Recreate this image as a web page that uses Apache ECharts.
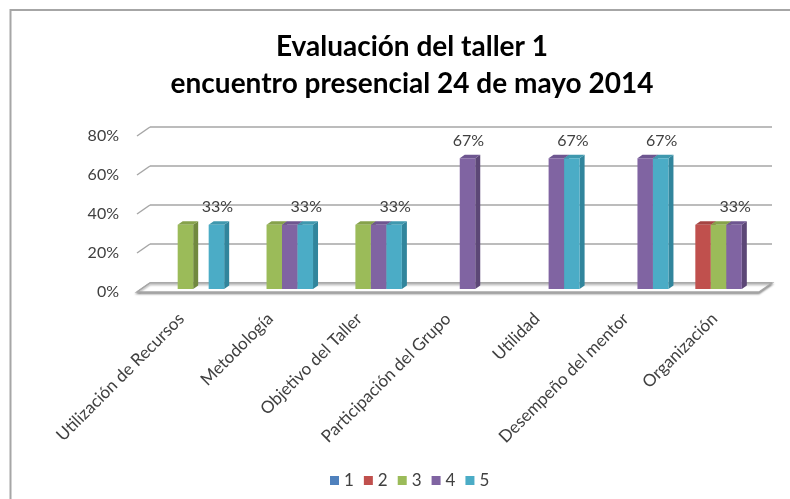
<!DOCTYPE html>
<html>
<head>
<meta charset="utf-8">
<script src="https://cdn.jsdelivr.net/npm/echarts@6/dist/echarts.min.js"></script>
<style>
html,body{margin:0;padding:0;background:#fff;}
#chart{width:790px;height:499px;}
</style>
</head>
<body>
<div id="chart"></div>
<script>
// ---- data ----
var categories = ['Utilización de Recursos','Metodología','Objetivo del Taller','Participación del Grupo','Utilidad','Desempeño del mentor','Organización'];
var seriesNames = ['1','2','3','4','5'];
var s1 = [null,null,null,null,null,null,null];
var s2 = [null,null,null,null,null,null,0.33];
var s3 = [0.33,0.33,0.33,null,null,null,0.33];
var s4 = [null,0.33,0.33,0.67,0.67,0.67,0.33];
var s5 = [0.33,0.33,0.33,null,0.67,0.67,null];
var yTicks = [0,0.2,0.4,0.6,0.8];
var yTickLabels = ['0%','20%','40%','60%','80%'];

var allSeries = [s1,s2,s3,s4,s5];
var colors = ['#4F81BD','#C0504D','#9BBB59','#8064A2','#4BACC6'];
var sideColors = ['#385d8a','#8c3836','#71893f','#5c4776','#31859c'];
var topColors = ['#46729f','#a54543','#86a24b','#6e5690','#3f98ae'];

// which series carries the data label in each category (last one with a value)
var labelSeries = categories.map(function(c,i){
  var k=-1; allSeries.forEach(function(s,j){ if(s[i]!=null) k=j; }); return k;
});

var FONT = 'Lato, "Open Sans", sans-serif';
var GAP = 0.128, N = 5;
var SHIFT_X = 4, SHIFT_Y = -3;     // bars sit slightly behind the front plane
var DX = 5, DY = -3.5;              // bar depth
var WALL_DX = 13, WALL_DY = -9;     // back wall offset

function barSeries(idx){
  var vals = allSeries[idx];
  return {
    type:'custom', name: seriesNames[idx], xAxisIndex:0, yAxisIndex:0, z:5,
    itemStyle:{color: colors[idx]},
    data: vals.map(function(v,i){ return [i, v==null ? '-' : v]; }),
    encode:{x:0,y:1},
    renderItem: function(params, api){
      var v = api.value(1);
      if (v==null || isNaN(v)) return null;
      var ci = api.value(0);
      var c = api.coord([ci, v]);
      var b = api.coord([ci, 0]);
      var band = api.size([1,0])[0];
      var gw = band*(1-GAP), bw = gw/N;
      var x0 = c[0] - gw/2 + idx*bw + SHIFT_X, x1 = x0 + bw;
      var yt = c[1] + SHIFT_Y, yb = b[1] + SHIFT_Y;
      var children = [
        {type:'polygon', shape:{points:[[x1,yb],[x1+DX,yb+DY],[x1+DX,yt+DY],[x1,yt]]}, style:{fill: sideColors[idx]}},
        {type:'polygon', shape:{points:[[x0,yt],[x1,yt],[x1+DX,yt+DY],[x0+DX,yt+DY]]}, style:{fill: topColors[idx]}},
        {type:'rect', shape:{x:x0, y:yt, width:bw, height:yb-yt}, style:{fill: colors[idx]}}
      ];
      if (labelSeries[ci] === idx) {
        children.push({type:'text', style:{text: Math.round(v*100)+'%', x:(x0+x1)/2 + 1, y: yt - 18,
          align:'center', verticalAlign:'middle', fill:'#404040', font:'16px '+FONT}});
      }
      return {type:'group', children: children};
    }
  };
}

var chart = echarts.init(document.getElementById('chart'));
var option = {
  animation:false,
  backgroundColor:'#fff',
  title:{
    text:'Evaluación del taller 1\nencuentro presencial 24 de mayo 2014',
    left:407, textAlign:'center', top:23,
    textStyle:{fontFamily:FONT, fontWeight:'bold', fontSize:28, color:'#000', lineHeight:37}
  },
  legend:{
    data: seriesNames, left:325, top:467, icon:'rect', itemWidth:9, itemHeight:9, itemGap:10,
    textStyle:{fontFamily:FONT, fontSize:17, color:'#404040'}
  },
  grid:[
    {left:137, right:31, top:136, bottom:207},
    {left:150, right:18, top:127, bottom:216}
  ],
  xAxis:[
    {type:'category', gridIndex:0, data:categories, axisLine:{show:false}, axisTick:{show:false},
     axisLabel:{rotate:45, margin:24, fontFamily:FONT, fontSize:17, color:'#404040', interval:0}},
    {type:'category', gridIndex:1, data:categories, show:false}
  ],
  yAxis:[
    {type:'value', gridIndex:0, min:0, max:0.8, interval:0.2, splitLine:{show:false}, axisLine:{show:false}, axisTick:{show:false},
     axisLabel:{margin:18, fontFamily:FONT, fontSize:16, color:'#404040',
       formatter:function(v){ var k=yTicks.indexOf(Math.round(v*10)/10); return k>=0?yTickLabels[k]:''; }}},
    {type:'value', gridIndex:1, min:0, max:0.8, interval:0.2, axisLine:{show:false}, axisTick:{show:false}, axisLabel:{show:false},
     splitLine:{show:true, lineStyle:{color:'#a6a6a6', width:1.5}}}
  ],
  graphic:[
    {type:'polyline', shape:{points:[[10.5,499],[10.5,10],[790,10]]}, style:{stroke:'#a6a6a6', lineWidth:2, fill:null}, z:100}
  ],
  series:[
    { // left-wall connectors
      type:'custom', xAxisIndex:0, yAxisIndex:0, z:2, silent:true,
      data: yTicks.map(function(t){ return [0,t]; }),
      renderItem:function(params, api){
        var y = api.coord([0, api.value(1)])[1];
        var x = params.coordSys.x;
        return {type:'line', shape:{x1:x, y1:y, x2:x+WALL_DX, y2:y+WALL_DY}, style:{stroke:'#a6a6a6', lineWidth:1.5}};
      }
    },
    { // floor
      type:'custom', xAxisIndex:0, yAxisIndex:0, z:3, silent:true,
      data:[[0,0]],
      renderItem:function(params, api){
        var cs = params.coordSys;
        var y = api.coord([0,0])[1];
        var x = cs.x, w = cs.width;
        return {type:'polygon', shape:{points:[[x,y],[x+w,y],[x+w+WALL_DX,y+WALL_DY],[x+WALL_DX,y+WALL_DY]]},
          style:{fill:'#fff', stroke:'#a6a6a6', lineWidth:1.5, shadowBlur:2, shadowOffsetY:1.5, shadowColor:'rgba(0,0,0,0.35)'}};
      }
    },
    barSeries(0), barSeries(1), barSeries(2), barSeries(3), barSeries(4)
  ]
};
chart.setOption(option);
</script>
</body>
</html>
